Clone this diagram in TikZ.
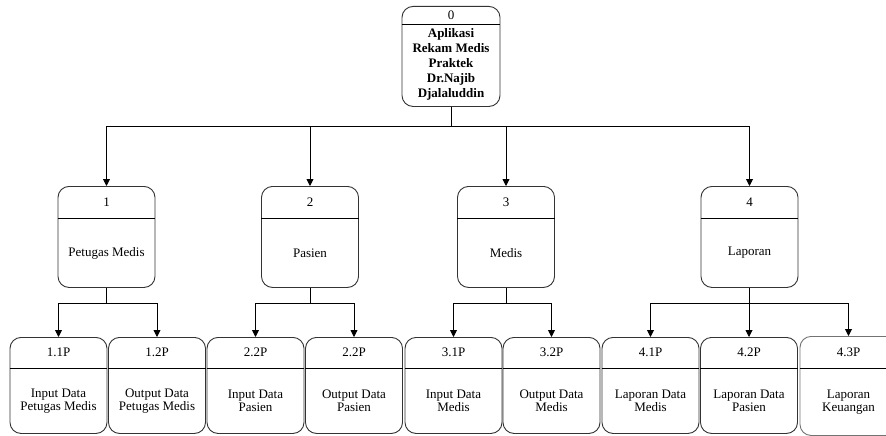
\documentclass[tikz,border=0pt]{standalone}
\usepackage{fontspec}
\setmainfont{Liberation Serif}
\usetikzlibrary{arrows.meta}
\tikzset{
  procbox/.style={draw=black!80, line width=0.9pt, rounded corners=11pt, inner sep=0pt, anchor=north, minimum width=97pt},
  divline/.style={draw=black, line width=0.9pt},
  idtext/.style={font=\fontsize{13}{15}\selectfont, inner sep=0pt},
  bodytext/.style={font=\fontsize{13}{13}\selectfont, align=center, inner sep=0pt},
  toptext/.style={font=\fontsize{13}{15}\selectfont\bfseries, align=center, inner sep=0pt},
  conn/.style={draw=black, line width=0.9pt, -{Triangle[width=7pt,length=7pt]}},
  plain/.style={draw=black, line width=0.9pt}
}
% \proc{name}{cx}{top}{height}{header}{id}{label}{style}
\newcommand{\proc}[8]{%
  \node[procbox, minimum height=#4pt, #8] (#1) at (#2,#3) {};
  \draw[divline] ([yshift=-#5pt]#1.north west) -- ([yshift=-#5pt]#1.north east);
  \node[idtext] (#1-id) at ([yshift=-#5pt/2]#1.north) {#6};
  \path ([yshift=-#5pt]#1.north) -- (#1.south) node[midway, bodytext] (#1-tx) {#7};
}
\begin{document}
\begin{tikzpicture}[x=1pt,y=-1pt]
\useasboundingbox (0,0) rectangle (886,436);
% top
\node[procbox, minimum height=100pt, minimum width=98pt] (n0) at (451,6) {};
\draw[divline] ([yshift=-18pt]n0.north west) -- ([yshift=-18pt]n0.north east);
\node[idtext] (n0-id) at (451,15) {0};
\node[toptext] (n0-tx) at (451,64.5) {Aplikasi\\Rekam Medis\\Praktek\\Dr.Najib\\Djalaluddin};
% level 1
\proc{n1}{106.5}{186}{101}{32}{1}{Petugas Medis}{}
\proc{n2}{310}{186}{101}{32}{2}{Pasien}{}
\proc{n3}{506}{186}{101}{32}{3}{Medis}{}
\proc{n4}{749.5}{186}{101}{32}{4}{Laporan}{}
% level 2
\proc{p11}{58.5}{337}{96}{31}{1.1P}{Input Data\\Petugas Medis}{}
\proc{p12}{157}{337}{96}{31}{1.2P}{Output Data\\Petugas Medis}{}
\proc{p21}{255.5}{337}{96}{31}{2.2P}{Input Data\\Pasien}{}
\proc{p22}{354}{337}{96}{31}{2.2P}{Output Data\\Pasien}{}
\proc{p31}{453.5}{337}{96}{31}{3.1P}{Input Data\\Medis}{}
\proc{p32}{551.5}{337}{96}{31}{3.2P}{Output Data\\Medis}{}
\proc{p41}{650.5}{337}{96}{31}{4.1P}{Laporan Data\\Medis}{}
\proc{p42}{749}{337}{96}{31}{4.2P}{Laporan Data\\Pasien}{}
\proc{p43}{848.5}{336}{99}{32}{4.3P}{Laporan\\Keuangan}{draw=black!55}
% buses
\coordinate (b0) at (451,126);
\coordinate (b1) at (106.5,303);
\coordinate (b2) at (310,303);
\coordinate (b3) at (506,303);
\coordinate (b4) at (749.5,303);
\foreach \c in {n1,n2,n3,n4} \draw[conn] (n0.south) -- (b0) -| (\c.north);
\foreach \c in {p11,p12} \draw[conn] (n1.south) -- (b1) -| (\c.north);
\foreach \c in {p21,p22} \draw[conn] (n2.south) -- (b2) -| (\c.north);
\foreach \c in {p31,p32} \draw[conn] (n3.south) -- (b3) -| (\c.north);
\foreach \c in {p41,p42,p43} \draw[conn] (n4.south) -- (b4) -| (\c.north);
\end{tikzpicture}
\end{document}
